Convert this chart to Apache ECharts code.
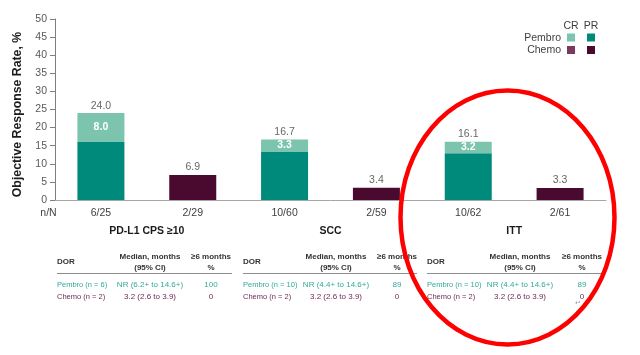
<!DOCTYPE html>
<html>
<head>
<meta charset="utf-8">
<script src="https://cdn.jsdelivr.net/npm/echarts@6/dist/echarts.min.js"></script>
<style>
  html, body { margin: 0; padding: 0; background: #ffffff; }
  #chart { width: 640px; height: 355px; }
</style>
</head>
<body>
<div id="chart"></div>
<script>
// Response counts per arm (n/N) and the subgroup each pair belongs to
var categories = ['6/25', '2/29', '10/60', '2/59', '10/62', '2/61'];
var groups = ['PD-L1 CPS \u226510', 'SCC', 'ITT'];

// Objective response rate components, %
var pembroPR = [16.0, null, 13.4, null, 12.9, null];
var pembroCR = [8.0, null, 3.3, null, 3.2, null];
var chemoPR  = [null, 6.9, null, 3.4, null, 3.3];
var chemoCR  = [null, 0, null, 0, null, 0];
var totalORR = [24.0, 6.9, 16.7, 3.4, 16.1, 3.3];

// Y axis
var yMin = 0, yMax = 50, yStep = 5;

// Duration-of-response tables, one per subgroup
var dorPembroLabel  = ['Pembro (n = 6)', 'Pembro (n = 10)', 'Pembro (n = 10)'];
var dorPembroMedian = ['NR (6.2+ to 14.6+)', 'NR (4.4+ to 14.6+)', 'NR (4.4+ to 14.6+)'];
var dorPembroPct    = ['100', '89', '89'];
var dorChemoLabel   = ['Chemo (n = 2)', 'Chemo (n = 2)', 'Chemo (n = 2)'];
var dorChemoMedian  = ['3.2 (2.6 to 3.9)', '3.2 (2.6 to 3.9)', '3.2 (2.6 to 3.9)'];
var dorChemoPct     = ['0', '0', '0'];

var C_PEM_PR = '#008A7C';
var C_PEM_CR = '#7CC4AE';
var C_CHE_PR = '#4A0A2F';
var C_CHE_CR = '#7A3B5E';
var FONT = '"Liberation Sans", Arial, sans-serif';

var chart = echarts.init(document.getElementById('chart'), null, { renderer: 'canvas' });

// Table layout: left edge, median column centre, % column centre, rule end
var tables = [
  { x: 57,  mid: 150, pct: 211, end: 232 },
  { x: 243, mid: 336, pct: 397, end: 417 },
  { x: 427, mid: 520, pct: 582, end: 603 }
];

var graphics = [];
function txt(x, y, s, opt) {
  opt = opt || {};
  graphics.push({
    type: 'text', x: x, y: y, z: 10, rotation: opt.rotation || 0,
    style: {
      text: s, fill: opt.color || '#333', font: (opt.bold ? 'bold ' : '') + (opt.size || 8) + 'px ' + FONT,
      textAlign: opt.align || 'left', textVerticalAlign: 'middle'
    }
  });
}

tables.forEach(function (t, i) {
  txt(t.x, 262, 'DOR', { bold: true, color: '#333' });
  txt(t.mid, 257, 'Median, months', { bold: true, align: 'center' });
  txt(t.mid, 267.5, '(95% CI)', { bold: true, align: 'center' });
  txt(t.pct, 257, '\u22656 months', { bold: true, align: 'center' });
  txt(t.pct, 267.5, '%', { bold: true, align: 'center' });
  graphics.push({
    type: 'line', z: 10,
    shape: { x1: t.x, y1: 273.5, x2: t.end, y2: 273.5 },
    style: { stroke: '#8c8c8c', lineWidth: 1.2 }
  });
  txt(t.x, 284.5, dorPembroLabel[i], { color: '#33A99B', size: 7.5 });
  txt(t.mid, 284.5, dorPembroMedian[i], { color: '#33A99B', align: 'center', size: 8 });
  txt(t.pct, 284.5, dorPembroPct[i], { color: '#33A99B', align: 'center', size: 8 });
  txt(t.x, 297, dorChemoLabel[i], { color: '#6D2C52', size: 7.5 });
  txt(t.mid, 297, dorChemoMedian[i], { color: '#6D2C52', align: 'center', size: 8 });
  txt(t.pct, 297, dorChemoPct[i], { color: '#6D2C52', align: 'center', size: 8 });
});

// n/N row caption
txt(48.5, 213, 'n/N', { color: '#404040', size: 10.5, align: 'center' });

// Y axis title
txt(18, 114.5, 'Objective Response Rate, %', {
  color: '#1a1a1a', size: 12.3, bold: true, align: 'center', rotation: Math.PI / 2
});

// Legend matrix: columns CR / PR, rows Pembro / Chemo
txt(571, 26, 'CR', { color: '#404040', size: 10.5, align: 'center' });
txt(591, 26, 'PR', { color: '#404040', size: 10.5, align: 'center' });
txt(561, 38, 'Pembro', { color: '#404040', size: 10.5, align: 'right' });
txt(561, 50.5, 'Chemo', { color: '#404040', size: 10.5, align: 'right' });
[[567, 33.5, C_PEM_CR], [587, 33.5, C_PEM_PR], [567, 46, C_CHE_CR], [587, 46, C_CHE_PR]].forEach(function (r) {
  graphics.push({ type: 'rect', z: 10, shape: { x: r[0], y: r[1], width: 8, height: 8 }, style: { fill: r[2] } });
});

// paragraph mark
txt(578, 303, '\u21B5', { color: '#9a9a9a', size: 7, align: 'center' });

// highlight ring around the ITT group
graphics.push({
  type: 'ellipse', z: 20,
  shape: { cx: 507.5, cy: 217.5, rx: 107, ry: 127 },
  style: { fill: 'none', stroke: '#FF0000', lineWidth: 4.5 }
});

var option = {
  backgroundColor: '#ffffff',
  animation: false,
  grid: { left: 55, right: 34, top: 19, bottom: 155, containLabel: false },
  xAxis: [
    {
      type: 'category', data: categories,
      axisLine: { show: true, lineStyle: { color: '#A6A6A6', width: 1 } },
      axisTick: { show: false },
      axisLabel: { margin: 8, color: '#404040', fontSize: 10.5, fontFamily: FONT }
    },
    {
      type: 'category', data: groups, position: 'bottom', offset: 18,
      axisLine: { show: false }, axisTick: { show: false },
      axisLabel: { margin: 8, color: '#1a1a1a', fontSize: 10.5, fontWeight: 'bold', fontFamily: FONT }
    }
  ],
  yAxis: {
    type: 'value', min: yMin, max: yMax, interval: yStep,
    axisLine: { show: true, lineStyle: { color: '#7f7f7f', width: 1 } },
    axisTick: { show: true, length: 5, lineStyle: { color: '#7f7f7f' } },
    axisLabel: { margin: 8, color: '#595959', fontSize: 10.5, fontFamily: FONT },
    splitLine: { show: false }
  },
  series: [
    {
      name: 'Pembro PR', type: 'bar', stack: 'orr', barWidth: 47, data: pembroPR,
      itemStyle: { color: C_PEM_PR }
    },
    {
      name: 'Pembro CR', type: 'bar', stack: 'orr', barWidth: 47, data: pembroCR,
      itemStyle: { color: C_PEM_CR },
      label: {
        show: true, position: 'inside', color: '#ffffff', fontWeight: 'bold',
        fontSize: 10.5, fontFamily: FONT,
        formatter: function (p) { return p.value ? p.value.toFixed(1) : ''; }
      }
    },
    {
      name: 'Chemo PR', type: 'bar', stack: 'orr', barWidth: 47, data: chemoPR,
      itemStyle: { color: C_CHE_PR }
    },
    {
      name: 'Chemo CR', type: 'bar', stack: 'orr', barWidth: 47, data: chemoCR,
      itemStyle: { color: C_CHE_CR }
    },
    {
      name: 'ORR', type: 'scatter', data: totalORR, symbolSize: 0,
      itemStyle: { color: 'rgba(0,0,0,0)' },
      label: {
        show: true, position: 'top', distance: 2, color: '#404040',
        fontSize: 10.5, fontFamily: FONT,
        formatter: function (p) { return p.value.toFixed(1); }
      },
      z: 5
    }
  ],
  graphic: graphics
};

chart.setOption(option);
</script>
</body>
</html>
